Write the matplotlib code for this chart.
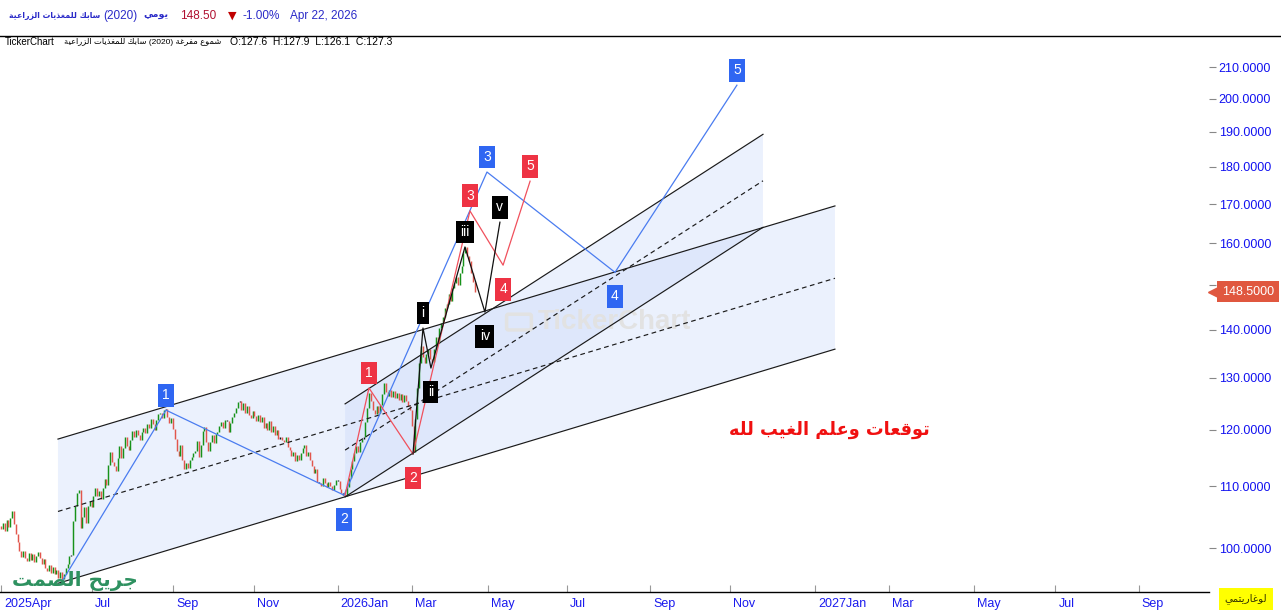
import matplotlib
matplotlib.use('Agg')
import matplotlib.pyplot as plt
import matplotlib.transforms as mtransforms
from matplotlib.ticker import FixedLocator, NullLocator, FuncFormatter
from matplotlib.lines import Line2D

# ---------------- data ----------------
first_open = 103.4
closes = [
    103.0, 104.0, 102.7, 104.4, 103.3, 104.8, 105.8, 103.7, 102.2, 101.0,
    99.6, 98.6, 99.6, 98.4, 98.0, 99.3, 98.1, 99.1, 97.8, 98.7,
    99.4, 98.4, 97.6, 98.3, 96.9, 96.5, 97.4, 96.2, 97.1, 96.0,
    96.6, 95.5, 96.3, 95.4, 96.0, 96.9, 97.6, 98.8, 98.9, 104.2,
    106.7, 108.8, 109.3, 103.2, 104.9, 106.5, 104.0, 106.7, 107.6, 106.6,
    108.4, 109.7, 108.3, 109.2, 107.8, 109.7, 111.2, 110.2, 113.6, 116.0,
    114.2, 113.4, 112.6, 114.9, 117.0, 114.9, 116.7, 118.6, 117.0, 116.3,
    118.2, 119.8, 118.6, 120.0, 119.0, 118.2, 119.6, 120.4, 119.4, 121.0,
    120.4, 122.0, 121.0, 120.0, 121.8, 122.9, 123.2, 122.2, 123.8, 124.0,
    122.4, 121.2, 122.2, 120.2, 118.4, 116.2, 115.3, 117.2, 114.6, 113.0,
    114.0, 113.2, 114.6, 115.0, 115.8, 116.2, 118.0, 115.0, 117.2, 119.8,
    120.6, 117.8, 116.2, 117.8, 119.0, 117.6, 119.2, 119.6, 120.8, 121.4,
    120.4, 121.8, 121.6, 119.6, 121.2, 122.4, 123.2, 124.2, 125.2, 125.4,
    123.8, 125.0, 123.2, 124.4, 122.8, 122.2, 123.6, 122.6, 121.6, 122.8,
    121.4, 122.4, 120.4, 121.2, 120.0, 121.6, 119.6, 120.8, 119.0, 120.0,
    118.4, 118.6, 118.1, 117.8, 118.6, 116.8, 116.4, 115.2, 116.0, 114.4,
    115.4, 114.6, 115.8, 116.6, 117.2, 115.2, 116.0, 114.6, 113.4, 112.2,
    113.0, 110.8, 110.6, 110.0, 111.4, 110.6, 109.8, 110.8, 110.0, 109.4,
    110.2, 111.0, 110.9, 109.6, 108.8, 108.6, 108.4, 109.9, 111.4, 112.9,
    114.4, 115.7, 117.0, 116.0, 117.8, 118.4, 118.6, 121.4, 124.2, 127.0,
    125.4, 123.8, 123.0, 124.4, 123.2, 124.6, 126.8, 128.9, 127.2, 126.4,
    127.6, 126.2, 127.4, 126.0, 127.0, 125.6, 126.8, 125.2, 126.6, 125.4,
    124.4, 123.8, 120.8, 116.0, 122.0, 128.0, 133.0, 136.6, 134.2, 133.0,
    134.8, 136.0, 133.8, 133.2, 136.0, 138.4, 137.2, 140.4, 141.6, 142.8,
    144.8, 145.8, 148.0, 146.4, 149.4, 150.4, 152.0, 150.0, 152.8, 154.6,
    157.6, 159.0, 157.0, 155.8, 152.8, 150.8, 148.5,
]
last_price = 148.5

tick_idx = [0, 49, 93, 137, 182, 222, 263, 306, 351, 394, 440, 480, 526, 570, 615]
tick_lbl = ['2025Apr', 'Jul', 'Sep', 'Nov', '2026Jan', 'Mar', 'May', 'Jul', 'Sep',
            'Nov', '2027Jan', 'Mar', 'May', 'Jul', 'Sep']
y_ticks = [100, 110, 120, 130, 140, 150, 160, 170, 180, 190, 200, 210]

outer_x = [30.8, 450.8]
outer_upper = [118.3, 169.5]
outer_lower = [94.7, 135.9]
outer_mid = [105.8, 151.6]
inner_x = [186.0, 411.9]
inner_upper = [124.9, 189.3]
inner_lower = [108.2, 164.0]
inner_mid = [116.3, 176.2]

blue_x = [33.5, 89.2, 185.4, 262.7, 331.9, 397.8]
blue_y = [95.2, 123.7, 108.5, 178.6, 153.0, 204.2]
blue_lbl = ['', '1', '2', '3', '4', '5']

red_x = [186.0, 198.9, 222.7, 253.5, 271.4, 286.0]
red_y = [108.5, 128.0, 115.6, 168.2, 154.7, 176.1]
red_lbl = ['', '1', '2', '3', '4', '5']

blk_x = [222.7, 228.1, 232.4, 250.8, 261.6, 269.7]
blk_y = [115.6, 140.4, 132.0, 159.1, 143.9, 165.3]
blk_lbl = ['', 'i', 'ii', 'iii', 'iv', 'v']

# ---------------- arabic shaping (presentation forms, visual order) ----------------
AR = {
    'ا': (0xFE8D, 0xFE8E, None, None), 'ب': (0xFE8F, 0xFE90, 0xFE91, 0xFE92),
    'ة': (0xFE93, 0xFE94, None, None), 'ت': (0xFE95, 0xFE96, 0xFE97, 0xFE98),
    'ج': (0xFE9D, 0xFE9E, 0xFE9F, 0xFEA0), 'ح': (0xFEA1, 0xFEA2, 0xFEA3, 0xFEA4),
    'ذ': (0xFEAB, 0xFEAC, None, None), 'ر': (0xFEAD, 0xFEAE, None, None),
    'ز': (0xFEAF, 0xFEB0, None, None), 'س': (0xFEB1, 0xFEB2, 0xFEB3, 0xFEB4),
    'ش': (0xFEB5, 0xFEB6, 0xFEB7, 0xFEB8), 'ص': (0xFEB9, 0xFEBA, 0xFEBB, 0xFEBC),
    'ع': (0xFEC9, 0xFECA, 0xFECB, 0xFECC), 'غ': (0xFECD, 0xFECE, 0xFECF, 0xFED0),
    'ف': (0xFED1, 0xFED2, 0xFED3, 0xFED4), 'ق': (0xFED5, 0xFED6, 0xFED7, 0xFED8),
    'ك': (0xFED9, 0xFEDA, 0xFEDB, 0xFEDC), 'ل': (0xFEDD, 0xFEDE, 0xFEDF, 0xFEE0),
    'م': (0xFEE1, 0xFEE2, 0xFEE3, 0xFEE4), 'ه': (0xFEE9, 0xFEEA, 0xFEEB, 0xFEEC),
    'و': (0xFEED, 0xFEEE, None, None), 'ي': (0xFEF1, 0xFEF2, 0xFEF3, 0xFEF4),
}


def ar(s):
    out = []
    for k, ch in enumerate(s):
        if ch not in AR:
            out.append(ch)
            continue
        iso, fin, ini, med = AR[ch]
        prev = s[k - 1] if k > 0 else None
        nxt = s[k + 1] if k + 1 < len(s) else None
        jp = prev in AR and AR[prev][2] is not None
        jn = ini is not None and nxt in AR
        if jp and jn:
            c = med
        elif jp:
            c = fin
        elif jn:
            c = ini
        else:
            c = iso
        out.append(chr(c))
    return ''.join(out)[::-1]


FAM = ['Liberation Sans', 'DejaVu Sans']
plt.rcParams['font.family'] = FAM

W, H = 1281, 612
fig = plt.figure(figsize=(W / 100, H / 100), dpi=100)
fig.patch.set_facecolor('white')
ax = fig.add_axes([0, 20 / H, 1209 / W, 556 / H])
ax.set_facecolor('white')
ax.set_yscale('log')
ax.set_xlim(-0.54, 653.0)
ax.set_ylim(93.44, 220.3)

# channels
fill_c = (200 / 255, 215 / 255, 250 / 255)
ax.fill([outer_x[0], outer_x[1], outer_x[1], outer_x[0]],
        [outer_upper[0], outer_upper[1], outer_lower[1], outer_lower[0]],
        color=fill_c, alpha=0.35, lw=0, zorder=1)
ax.fill([inner_x[0], inner_x[1], inner_x[1], inner_x[0]],
        [inner_upper[0], inner_upper[1], inner_lower[1], inner_lower[0]],
        color=fill_c, alpha=0.35, lw=0, zorder=1)
for xs, ys, ls in [(outer_x, outer_upper, '-'), (outer_x, outer_lower, '-'),
                   (outer_x, outer_mid, (0, (4, 3))),
                   (inner_x, inner_upper, '-'), (inner_x, inner_lower, '-'),
                   (inner_x, inner_mid, (0, (4, 3)))]:
    ax.plot(xs, ys, color='#1a1a1a', lw=0.85, ls=ls, zorder=4)

# candles
opens = [first_open] + closes[:-1]
xs = list(range(len(closes)))
cols = []
for o, c in zip(opens, closes):
    if abs(c - o) / o < 0.002:
        cols.append('#111111')
    elif c > o:
        cols.append('#17921a')
    else:
        cols.append('#e2564c')
ax.vlines(xs, [min(o, c) for o, c in zip(opens, closes)],
          [max(o, c) for o, c in zip(opens, closes)], colors=cols, lw=1.05, zorder=3)

# waves
def wave(wx, wy, lbls, lc, bc):
    ax.plot(wx, wy, color=lc, lw=0.9, zorder=5)
    for k in range(1, len(wx)):
        up = wy[k] > wy[k - 1]
        ax.annotate(lbls[k], xy=(wx[k], wy[k]), xytext=(0, 15 if up else -24),
                    textcoords='offset pixels', ha='center', va='center',
                    color='white', fontsize=10, zorder=7,
                    bbox=dict(boxstyle='square,pad=0.32', fc=bc, ec='none'))

wave(blue_x, blue_y, blue_lbl, '#4a7cf0', '#2f66f2')
wave(red_x, red_y, red_lbl, '#f0505c', '#ee3344')
wave(blk_x, blk_y, blk_lbl, '#111111', '#000000')

# texts inside chart
ax.text(448, 120.0, ar('توقعات وعلم الغيب لله'), color='#f01010', fontsize=12.8,
        fontweight='bold', ha='center', va='center', family=['DejaVu Sans'], zorder=8)
ax.text(280, 141.7, '      ', fontsize=9, ha='center', va='center', zorder=2,
        bbox=dict(boxstyle='round,pad=0.15', fc='none', ec='#e2e2e2', lw=2.5))
ax.text(331.5, 141.7, 'TickerChart', color='#e2e2e2', fontsize=20, fontweight='bold',
        ha='center', va='center', zorder=2)
ax.text(40, 95.0, ar('جريح الصمت'), color='#2e9160', fontsize=14.5, fontweight='bold',
        ha='center', va='center', family=['DejaVu Sans'], zorder=8, clip_on=True)

# axes styling
for s in ['top', 'left', 'right']:
    ax.spines[s].set_visible(False)
ax.spines['bottom'].set_color('black')
ax.spines['bottom'].set_linewidth(1.0)

ax.xaxis.set_major_locator(FixedLocator(tick_idx))
ax.set_xticklabels(tick_lbl)
ax.tick_params(axis='x', direction='in', length=5, color='#999999', labelcolor='#1a1aee',
               labelsize=9, pad=4)
off = mtransforms.ScaledTranslation(3 / 100, 0, fig.dpi_scale_trans)
for lab in ax.get_xticklabels():
    lab.set_ha('left')
    lab.set_transform(lab.get_transform() + off)

ax.yaxis.tick_right()
ax.yaxis.set_major_locator(FixedLocator(y_ticks))
ax.yaxis.set_minor_locator(NullLocator())
ax.yaxis.set_major_formatter(FuncFormatter(lambda v, p: f'{v:.4f}'))
ax.tick_params(axis='y', direction='out', length=5, color='#888888', labelcolor='#1212f0',
               labelsize=9, pad=2)

# price tag
bt = mtransforms.blended_transform_factory(fig.transFigure, ax.transData)
ax.text(1248 / W, last_price, f'{last_price:.4f}', transform=bt, color='white', fontsize=9,
        ha='center', va='center', zorder=10, clip_on=False,
        bbox=dict(boxstyle='square,pad=0.36', fc='#e0573f', ec='none'))
ax.plot([1213 / W], [last_price], marker='<', ms=7, color='#e0573f', transform=bt,
        clip_on=False, zorder=10)

# header
fy = 1 - 16 / H
blue_h = '#2a2ac8'
fig.text(100 / W, fy, ar('سابك للمغذيات الزراعية'), color=blue_h, fontsize=5.6,
         fontweight='bold', ha='right', va='center', family=['DejaVu Sans'])
fig.text(103 / W, fy, '(2020)', color=blue_h, fontsize=8.5, va='center')
fig.text(168 / W, fy, ar('يومي'), color=blue_h, fontsize=6.8, fontweight='bold',
         ha='right', va='center', family=['DejaVu Sans'])
fig.text(180 / W, fy, '148.50', color='#b01030', fontsize=8.5, va='center')
fig.text(228 / W, fy, '▼', color='#c00000', fontsize=8, va='center', family=['DejaVu Sans'])
fig.text(243 / W, fy, '-1.00%', color=blue_h, fontsize=8.5, va='center')
fig.text(290 / W, fy, 'Apr 22, 2026', color=blue_h, fontsize=8.5, va='center')
fig.add_artist(Line2D([0, 1], [1 - 36 / H, 1 - 36 / H], color='black', lw=1.0,
                      transform=fig.transFigure))
fy2 = 1 - 42 / H
fig.text(5 / W, fy2, 'TickerChart', color='black', fontsize=7, va='center')
fig.text(221 / W, fy2, ar('سابك للمغذيات الزراعية') + ' (2020) ' + ar('شموع مفرغة'),
         color='black', fontsize=6, ha='right', va='center')
fig.text(230 / W, fy2, 'O:127.6  H:127.9  L:126.1  C:127.3', color='black', fontsize=7.5,
         va='center')

# log label
fig.text(1246 / W, 1 - 599 / H, ar('لوغاريتمي'), color='#333300', fontsize=7.5, ha='center',
         va='center', family=['DejaVu Sans'],
         bbox=dict(boxstyle='square,pad=0.55', fc='#ffff00', ec='none'))

fig.savefig('out.png', dpi=100, facecolor='white')
